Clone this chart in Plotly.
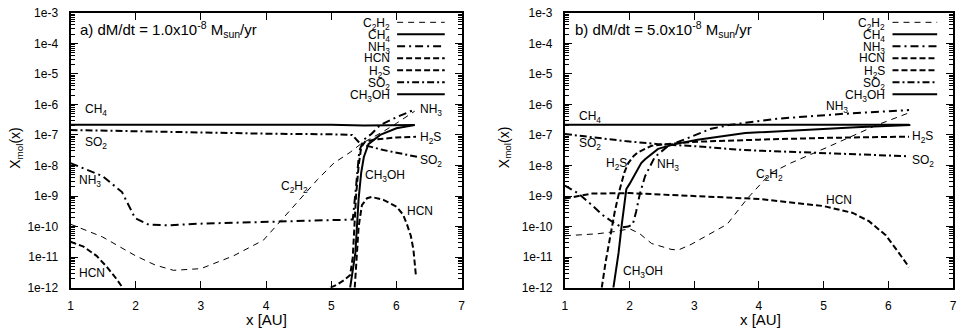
import math
import plotly.graph_objects as go
from plotly.subplots import make_subplots

# ---- panel a) dM/dt = 1.0e-8 Msun/yr ----
c2h2_a_x = [1.0, 1.49, 2.0, 2.3, 2.58, 3.0, 3.5, 3.96, 4.22, 4.53, 4.79, 5.04, 5.29, 5.45, 5.8, 6.0, 6.2, 6.28]
c2h2_a_y = [1.2e-10, 4.6e-11, 1.1e-11, 5.5e-12, 3.7e-12, 4.2e-12, 1.1e-11, 3.6e-11, 1.5e-10, 8.3e-10, 3.5e-9,
            1.2e-8, 2.7e-8, 5e-8, 1.3e-7, 2.4e-7, 4.5e-7, 6e-7]
ch4_a_x = [1.0, 2.0, 3.0, 4.0, 5.0, 5.5, 6.0, 6.28]
ch4_a_y = [2.15e-7, 2.15e-7, 2.2e-7, 2.2e-7, 2.15e-7, 2.05e-7, 2.05e-7, 2.1e-7]
nh3_a_x = [1.0, 1.2, 1.49, 1.79, 1.99, 2.2, 2.5, 3.0, 3.5, 4.0, 4.5, 5.0, 5.33, 5.38, 5.43, 5.5, 5.62, 5.75, 6.0, 6.28]
nh3_a_y = [1.2e-8, 8e-9, 4.5e-9, 1.35e-9, 1.9e-10, 1.15e-10, 1.1e-10, 1.25e-10, 1.35e-10, 1.45e-10, 1.55e-10,
           1.65e-10, 1.7e-10, 2e-9, 3e-8, 7e-8, 1.1e-7, 2.1e-7, 3.8e-7, 6.8e-7]
hcn_a_x = [1.0, 1.2, 1.4, 1.55, 1.7, 1.8, 1.9, None,
           5.36, 5.42, 5.47, 5.55, 5.62, 5.8, 6.0, 6.1, 6.16, 6.22, 6.26, 6.3]
hcn_a_y = [3.2e-11, 2.2e-11, 1.1e-11, 5e-12, 2e-12, 1e-12, 4e-13, None,
           1e-12, 1e-10, 5e-10, 8.5e-10, 9.3e-10, 7.5e-10, 4.5e-10, 2.5e-10, 1.2e-10, 5e-11, 1.8e-11, 2.3e-12]
h2s_a_x = [4.99, 5.1, 5.2, 5.29, 5.33, 5.38, 5.42, 5.46, 5.52, 5.65, 6.0, 6.3]
h2s_a_y = [1e-12, 1.3e-12, 1.8e-12, 2.6e-12, 1e-11, 1e-9, 1e-8, 4e-8, 6e-8, 7e-8, 8.3e-8, 8.7e-8]
so2_a_x = [1.0, 2.0, 3.0, 4.0, 5.0, 5.32, 5.45, 5.8, 6.33]
so2_a_y = [1.45e-7, 1.3e-7, 1.2e-7, 1.1e-7, 1.05e-7, 1.0e-7, 5e-8, 3.2e-8, 1.9e-8]
ch3oh_a_x = [5.29, 5.37, 5.42, 5.46, 5.5, 5.57, 5.75, 6.0, 6.28]
ch3oh_a_y = [1e-12, 1.4e-11, 8.3e-10, 6e-9, 1.9e-8, 5e-8, 1e-7, 1.65e-7, 2.1e-7]

# ---- panel b) dM/dt = 5.0e-8 Msun/yr ----
c2h2_b_x = [1.0, 1.5, 1.8, 2.0, 2.15, 2.34, 2.64, 2.75, 2.95, 3.2, 3.51, 3.82, 4.18, 4.49, 5.05, 5.82, 6.34]
c2h2_b_y = [5e-11, 5.8e-11, 7e-11, 8.5e-11, 6e-11, 2.8e-11, 1.8e-11, 1.7e-11, 2.6e-11, 5e-11, 1.2e-10, 8.3e-10,
            5.6e-9, 1.2e-8, 3.9e-8, 2.1e-7, 5.5e-7]
ch4_b_x = [1.0, 2.0, 3.0, 4.0, 5.0, 6.0, 6.32]
ch4_b_y = [2.15e-7, 2.15e-7, 2.15e-7, 2.15e-7, 2.15e-7, 2.15e-7, 2.15e-7]
nh3_b_x = [1.0, 1.21, 1.42, 1.57, 1.72, 1.88, 1.98, 2.05, 2.1, 2.16, 2.24, 2.39, 2.6, 3.05, 3.26, 3.56, 4.28, 5.3, 6.32]
nh3_b_y = [2.2e-9, 1.2e-9, 5e-10, 2.5e-10, 1.5e-10, 9.5e-11, 1e-10, 1.2e-10, 3e-10, 1.2e-9, 4.5e-9, 1.9e-8, 4.4e-8,
           1.1e-7, 1.6e-7, 2.15e-7, 3.4e-7, 4.9e-7, 6.5e-7]
hcn_b_x = [1.0, 1.42, 2.0, 3.05, 4.0, 5.0, 5.45, 5.7, 5.96, 6.14, 6.32]
hcn_b_y = [8.3e-10, 1.2e-9, 1.25e-9, 1e-9, 8e-10, 4.7e-10, 2.8e-10, 1.5e-10, 5.2e-11, 1.6e-11, 4.7e-12]
h2s_b_x = [1.57, 1.63, 1.7, 1.77, 1.85, 1.92, 1.98, 2.06, 2.13, 2.34, 2.6, 3.05, 4.0, 5.0, 6.32]
h2s_b_y = [1e-12, 7e-12, 4.6e-11, 3e-10, 1.7e-9, 6e-9, 1.2e-8, 2e-8, 2.7e-8, 4.4e-8, 5.1e-8, 6e-8, 7e-8, 8e-8, 8.8e-8]
so2_b_x = [1.0, 1.5, 1.93, 2.44, 3.0, 3.77, 4.5, 5.3, 6.32]
so2_b_y = [1.07e-7, 8e-8, 6.3e-8, 5e-8, 4.3e-8, 3.2e-8, 2.8e-8, 2.5e-8, 2.0e-8]
ch3oh_b_x = [1.75, 1.83, 1.88, 1.95, 2.0, 2.08, 2.18, 2.24, 2.44, 2.7, 3.05, 3.79, 4.81, 5.5, 6.34]
ch3oh_b_y = [1e-12, 1.4e-11, 1.2e-10, 1.7e-9, 2.5e-9, 5e-9, 1.2e-8, 1.6e-8, 3.5e-8, 5e-8, 7e-8, 1.15e-7, 1.5e-7,
             1.8e-7, 2.1e-7]

species = ["C<sub>2</sub>H<sub>2</sub>", "CH<sub>4</sub>", "NH<sub>3</sub>", "HCN",
           "H<sub>2</sub>S", "SO<sub>2</sub>", "CH<sub>3</sub>OH"]
styles = [dict(width=1, dash="6px,5px"), dict(width=2, dash="solid"), dict(width=2, dash="8px,4px,2px,4px"),
          dict(width=2, dash="6px,3px"), dict(width=2, dash="6px,3px"), dict(width=2, dash="7px,3px,2px,3px"),
          dict(width=2, dash="solid")]

panel_a = [(c2h2_a_x, c2h2_a_y), (ch4_a_x, ch4_a_y), (nh3_a_x, nh3_a_y), (hcn_a_x, hcn_a_y),
           (h2s_a_x, h2s_a_y), (so2_a_x, so2_a_y), (ch3oh_a_x, ch3oh_a_y)]
panel_b = [(c2h2_b_x, c2h2_b_y), (ch4_b_x, ch4_b_y), (nh3_b_x, nh3_b_y), (hcn_b_x, hcn_b_y),
           (h2s_b_x, h2s_b_y), (so2_b_x, so2_b_y), (ch3oh_b_x, ch3oh_b_y)]

# curve labels: (text, x, y)
labels_a = [("CH<sub>4</sub>", 1.19, 10**-6.2), ("SO<sub>2</sub>", 1.19, 10**-7.25), ("NH<sub>3</sub>", 1.1, 10**-8.5),
            ("HCN", 1.1, 10**-11.53), ("C<sub>2</sub>H<sub>2</sub>", 4.2, 10**-8.72),
            ("CH<sub>3</sub>OH", 5.49, 10**-8.35), ("HCN", 6.13, 10**-9.48), ("NH<sub>3</sub>", 6.33, 10**-6.18),
            ("H<sub>2</sub>S", 6.33, 10**-7.1), ("SO<sub>2</sub>", 6.33, 10**-7.86)]
labels_b = [("CH<sub>4</sub>", 1.18, 10**-6.42), ("SO<sub>2</sub>", 1.18, 10**-7.29), ("H<sub>2</sub>S", 1.6, 10**-7.95),
            ("NH<sub>3</sub>", 2.39, 10**-7.98), ("NH<sub>3</sub>", 5.0, 10**-6.1), ("H<sub>2</sub>S", 6.34, 10**-7.08),
            ("SO<sub>2</sub>", 6.34, 10**-7.86), ("C<sub>2</sub>H<sub>2</sub>", 3.92, 10**-8.3),
            ("HCN", 5.0, 10**-9.13), ("CH<sub>3</sub>OH", 1.86, 10**-11.49)]

titles = ["a) dM/dt = 1.0x10<sup>-8</sup> M<sub>sun</sub>/yr", "b) dM/dt = 5.0x10<sup>-8</sup> M<sub>sun</sub>/yr"]

decades = list(range(3, 13))
ytick_vals = [float("1e-%d" % k) for k in decades]
ytick_text = ["1e-%d" % k for k in decades]
yminor_vals = [float("%de-%d" % (m, k)) for k in range(4, 13) for m in range(2, 10)]
xtick_vals = [1, 2, 3, 4, 5, 6, 7]

W, H = 963, 333
FONT = "Liberation Sans, Arial, Helvetica, sans-serif"

fig = make_subplots(rows=1, cols=2)

for col, panel in [(1, panel_a), (2, panel_b)]:
    for name, (xs, ys), st in zip(species, panel, styles):
        fig.add_trace(go.Scatter(x=xs, y=ys, mode="lines", name=name, showlegend=False,
                                 line=dict(color="black", width=st["width"], dash=st["dash"])),
                      row=1, col=col)

x_dom = [(68 / W, 462 / W), (566 / W, 957 / W)]
y_dom = (1 - 293 / H, 1 - 6 / H)

axis_common = dict(showline=True, linecolor="black", linewidth=2, mirror="allticks", ticks="inside",
                   tickcolor="black", tickwidth=1, showgrid=False, zeroline=False, ticklabeloverflow="allow",
                   tickfont=dict(family=FONT, size=12, color="black"))

for i in (1, 2):
    fig.update_layout(**{
        ("xaxis" if i == 1 else "xaxis2"): dict(domain=x_dom[i - 1], range=[1, 7], tickmode="array",
                                                tickvals=xtick_vals, ticklen=7, ticklabelstandoff=6,
                                                **axis_common),
        ("yaxis" if i == 1 else "yaxis2"): dict(domain=y_dom, type="log", range=[-12, -3], tickmode="array",
                                                tickvals=ytick_vals, ticktext=ytick_text, ticklen=7,
                                                ticklabelstandoff=8,
                                                minor=dict(tickmode="array", tickvals=yminor_vals, ticks="inside",
                                                           ticklen=4, tickcolor="black", showgrid=False),
                                                **axis_common),
    })

ann = []
for i, labs in [(1, labels_a), (2, labels_b)]:
    xr, yr = ("x", "y") if i == 1 else ("x2", "y2")
    for txt, lx, ly in labs:
        ann.append(dict(text=txt, x=lx, y=math.log10(ly), xref=xr, yref=yr, showarrow=False,
                        xanchor="left", yanchor="middle", font=dict(family=FONT, size=12, color="black")))

# panel titles, axis titles
for i, (tx, yt_x, xt_x) in enumerate([(76, 13, 265), (574, 505, 763)]):
    ann.append(dict(text=titles[i], x=tx / W, y=1 - 23 / H, xref="paper", yref="paper", showarrow=False,
                    xanchor="left", yanchor="middle", font=dict(family=FONT, size=15, color="black")))
    ann.append(dict(text="X<sub>mol</sub>(x)", x=yt_x / W, y=1 - 147 / H, xref="paper", yref="paper",
                    showarrow=False, textangle=-90, xanchor="center", yanchor="middle",
                    font=dict(family=FONT, size=14, color="black")))
    ann.append(dict(text="x [AU]", x=xt_x / W, y=1 - 326 / H, xref="paper", yref="paper", showarrow=False,
                    xanchor="center", yanchor="middle", font=dict(family=FONT, size=15, color="black")))

# key in the upper right corner of each panel (text right, sample line to its right)
shapes = []
for txt_right, s0, s1 in [(392, 397, 445), (890, 896, 941)]:
    for j, (name, st) in enumerate(zip(species, styles)):
        row_y = 16 + 12.5 * j
        txt_y = row_y + (2 if "<sub>" in name else 0)
        ann.append(dict(text=name, x=txt_right / W, y=1 - txt_y / H, xref="paper", yref="paper",
                        showarrow=False, xanchor="right", yanchor="middle",
                        font=dict(family=FONT, size=12, color="black")))
        shapes.append(dict(type="line", xref="paper", yref="paper", x0=s0 / W, x1=s1 / W,
                           y0=1 - row_y / H, y1=1 - row_y / H,
                           line=dict(color="black", width=st["width"], dash=st["dash"])))

fig.update_layout(width=W, height=H, margin=dict(l=0, r=0, t=0, b=0), paper_bgcolor="white",
                  plot_bgcolor="white", annotations=ann, shapes=shapes, showlegend=False,
                  font=dict(family=FONT, color="black"))

# the page's default body margin would push the fixed-size figure out of the window
fig.write_html("out.html", config={"displayModeBar": False},
               post_script="document.body.style.margin='0';")
